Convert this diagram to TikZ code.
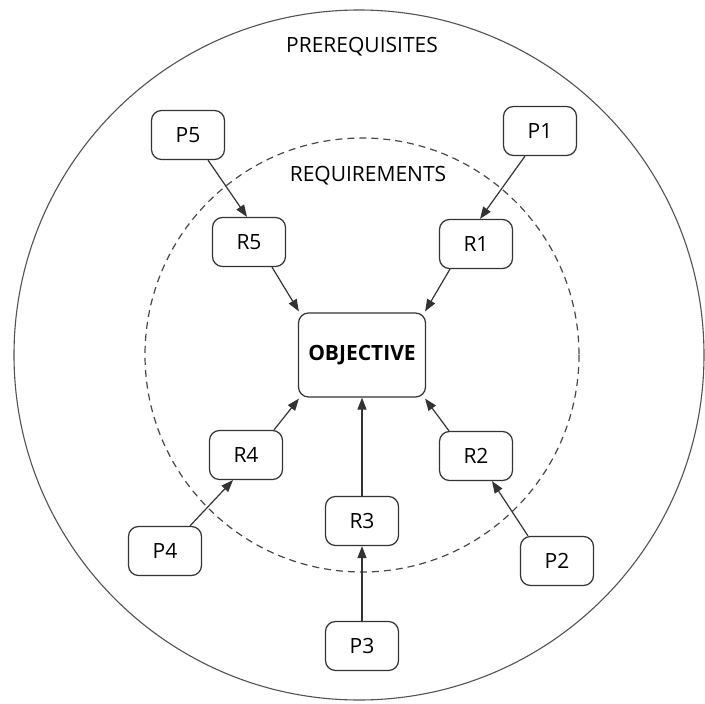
\documentclass[tikz,border=0pt]{standalone}
\usepackage{fontspec}
\setmainfont{Open Sans}
\usetikzlibrary{arrows.meta}
\definecolor{inkline}{HTML}{333333}
\definecolor{inktext}{HTML}{000000}
\begin{document}
\begin{tikzpicture}[x=1pt,y=-1pt,
  stepbox/.style={draw=inkline, line width=1.2pt, rounded corners=10pt,
    minimum width=73pt, minimum height=49pt, inner sep=0pt,
    font=\fontsize{21}{21}\selectfont, text=inktext},
  goalbox/.style={stepbox, minimum width=127pt, minimum height=84pt,
    font=\fontsize{21}{21}\selectfont\bfseries},
  ringlabel/.style={font=\fontsize{21}{21}\selectfont, text=inktext},
  flow/.style={draw=inkline, line width=1.2pt,
    -{Triangle[length=12pt,width=9pt]}}]
\useasboundingbox[fill=white] (0,0) rectangle (705,704);

% prerequisite ring and requirement ring
\draw[draw=inkline!85, line width=1.1pt] (359,355) circle[radius=345];
\draw[draw=inkline!90, line width=1.2pt, dash pattern=on 7pt off 5pt] (362,355) circle[radius=217];

\node[ringlabel] (prereq) at (362,47) {PREREQUISITES};
\node[ringlabel] (req) at (368,176) {REQUIREMENTS};

% central objective
\node[goalbox] (obj) at (362,355) {OBJECTIVE};

% requirements
\node[stepbox] (r1) at (476,244) {R1};
\node[stepbox] (r2) at (476,456) {R2};
\node[stepbox] (r3) at (362,521) {R3};
\node[stepbox] (r4) at (246,455) {R4};
\node[stepbox] (r5) at (249,242) {R5};

% prerequisites
\node[stepbox] (p1) at (540,131) {P1};
\node[stepbox] (p2) at (557,561) {P2};
\node[stepbox] (p3) at (362,646) {P3};
\node[stepbox] (p4) at (165,551) {P4};
\node[stepbox] (p5) at (188,135) {P5};

% prerequisites feed requirements
\draw[flow] ([xshift=-15pt]p1.south) -- ([xshift=4pt]r1.north);
\draw[flow] ([xshift=-29pt]p2.north) -- ([xshift=16pt]r2.south);
\draw[flow] (p3.north) -- (r3.south);
\draw[flow] ([xshift=25pt]p4.north) -- ([xshift=-13pt]r4.south);
\draw[flow] ([xshift=20pt]p5.south) -- ([xshift=-2pt]r5.north);

% requirements feed the objective
\draw[flow] ([xshift=-26pt]r1.south) -- ([shift={(-1pt,1pt)}]obj.north east);
\draw[flow] ([xshift=-27pt]r2.north) -- ([shift={(-1pt,-1pt)}]obj.south east);
\draw[flow] (r3.north) -- (obj.south);
\draw[flow] ([xshift=28pt]r4.north) -- ([shift={(1pt,-1pt)}]obj.south west);
\draw[flow] ([xshift=23pt]r5.south) -- ([shift={(1pt,1pt)}]obj.north west);
\end{tikzpicture}
\end{document}
